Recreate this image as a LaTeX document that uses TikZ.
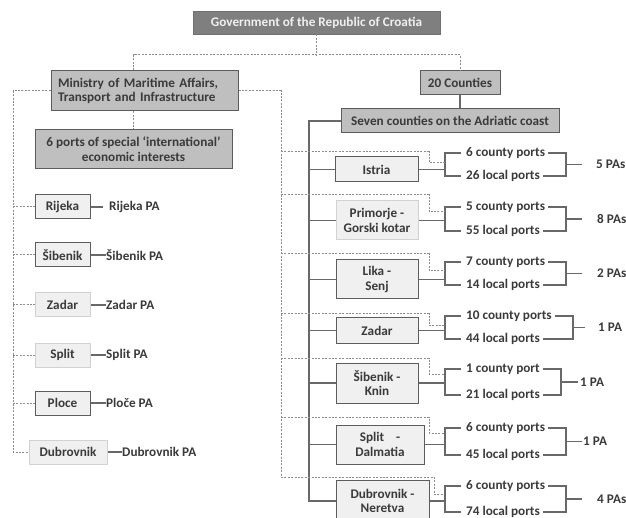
\documentclass[tikz,border=0pt]{standalone}
\usepackage{fontspec}
\setmainfont{Carlito}
\definecolor{govf}{HTML}{7F7F7F}
\definecolor{govb}{HTML}{707070}
\definecolor{midf}{HTML}{BFBFBF}
\definecolor{darkb}{HTML}{5C5C5C}
\definecolor{lightf}{HTML}{F0F0F0}
\definecolor{lightb}{HTML}{D2D2D2}
\definecolor{dashc}{HTML}{8C8C8C}
\definecolor{solc}{HTML}{686868}
\definecolor{txtc}{HTML}{3A3A3A}
\begin{document}
\begin{tikzpicture}[x=1pt,y=-1pt,
  every node/.style={font=\fontsize{13.2}{14.8}\selectfont\bfseries, text=txtc, inner sep=0pt},
  gbox/.style={draw=govb, fill=govf, text=white!94!black, line width=0.8pt},
  mbox/.style={draw=darkb, fill=midf, line width=1pt, align=center},
  dbox/.style={draw=darkb, fill=lightf, line width=1pt, align=center},
  lbox/.style={draw=lightb, fill=lightf, line width=1pt, align=center},
  dsh/.style={draw=dashc, line width=1pt, dash pattern=on 2pt off 1.4pt},
  sol/.style={draw=solc, line width=1.1pt},
  lbl/.style={anchor=west},
]
\useasboundingbox (0,0) rectangle (626,518);

% top level
\node[gbox, minimum width=247pt, minimum height=23pt] (gov) at (316.5,22.5) {Government of the Republic of Croatia};
\node[mbox, text width=173pt, inner xsep=7pt, align=left, minimum height=40pt] (min) at (144.5,91) {Ministry of Maritime Affairs,\\Transport and Infrastructure};
\node[mbox, minimum width=197pt, minimum height=39pt] (six) at (133.5,149.5) {6 ports of special ‘international’\\economic interests};
\node[mbox, minimum width=80pt, minimum height=24pt] (cty) at (460,83) {20 Counties};
\node[mbox, minimum width=218pt, minimum height=24pt] (sev) at (450,121) {Seven counties on the Adriatic coast};

\coordinate (hj) at (0,55);
\draw[dsh] (gov.south) -- (gov.south |- hj);
\draw[dsh] (six.north |- min.north) |- (hj -| cty.north) -- (cty.north);
\draw[dsh] (min.south -| six.north) -- (six.north);
\draw[sol] (cty.south) -- (cty.south |- sev.north);

% left column
\node[dbox, minimum width=55pt, minimum height=24pt] (rij) at (62.5,207) {Rijeka};
\node[dbox, minimum width=55pt, minimum height=24pt] (sib) at (62.5,255) {Šibenik};
\node[lbox, minimum width=55pt, minimum height=24pt] (zad) at (62.5,305) {Zadar};
\node[lbox, minimum width=55pt, minimum height=24pt] (spl) at (62.5,355) {Split};
\node[dbox, minimum width=55pt, minimum height=24pt] (plo) at (62.5,403) {Ploce};
\node[lbox, minimum width=78pt, minimum height=24pt] (dub) at (68,452) {Dubrovnik};

\node[lbl] (rijPA) at (109,207) {Rijeka PA};
\node[lbl] (sibPA) at (106,255) {Šibenik PA};
\node[lbl] (zadPA) at (106,305) {Zadar PA};
\node[lbl] (splPA) at (106,355) {Split PA};
\node[lbl] (ploPA) at (106,403) {Ploče PA};
\node[lbl] (dubPA) at (122,452) {Dubrovnik PA};

\draw[sol] (rij.east) -- ([xshift=-6pt]rijPA.west);
\draw[sol] (sib.east) -- (sibPA.west);
\draw[sol] (zad.east) -- (zadPA.west);
\draw[sol] (spl.east) -- (splPA.west);
\draw[sol] (plo.east) -- (ploPA.west);
\draw[sol] (dub.east) -- (dubPA.west);

\coordinate (lv) at (13,0);
\draw[dsh] (min.west) -| (lv |- dub.west) -- (dub.west);
\foreach \n in {rij,sib,zad,spl,plo} \draw[dsh] (lv |- \n.west) -- (\n.west);

% counties
\node[dbox, minimum width=83pt, minimum height=25pt] (is) at (376.5,169.5) {Istria};
\node[lbox, minimum width=82pt, minimum height=39pt] (pg) at (377,220.5) {Primorje -\\Gorski kotar};
\node[dbox, minimum width=82pt, minimum height=39pt] (ls) at (377,279.5) {Lika -\\Senj};
\node[dbox, minimum width=82pt, minimum height=25pt] (zd) at (377,330.5) {Zadar};
\node[dbox, minimum width=82pt, minimum height=40pt] (sk) at (377,383) {Šibenik -\\Knin};
\node[dbox, minimum width=88pt, minimum height=39pt] (sd) at (380,444.5) {Split \ \ \ -\\Dalmatia};
\node[dbox, minimum width=93pt, minimum height=42pt] (dn) at (382.5,501) {Dubrovnik -\\Neretva};

\coordinate (cv) at (309,0);
\draw[sol] (sev.west) -| (cv |- dn.west) -- (dn.west);
\foreach \n in {is,pg,ls,zd,sk,sd} \draw[sol] (cv |- \n.west) -- (\n.west);

\coordinate (rv) at (281,0);
\draw[dsh] (min.east) -| (rv |- 0,477) -- (434,477) -- (434,494) -- (445,494);

% port groups: name, yt, yb, xr, xp, PA x, texts, yh, yd
\foreach \n/\yt/\yb/\xr/\xp/\xa/\cp/\lp/\pa/\yh/\yd in {
  is/153/176/566/582/596/6 county ports/26 local ports/5 PAs/152/163,
  pg/207/231/566/582/597/5 county ports/55 local ports/8 PAs/195/212,
  ls/262/285/566/582/597/7 county ports/14 local ports/2 PAs/254/271,
  zd/316/339/573/585/598/10 county ports/44 local ports/1 PA/314/326,
  sk/369/395/561/578/580/1 county port/21 local ports/1 PA/358/374,
  sd/428/455/566/582/583/6 county ports/45 local ports/1 PA/417/433,
  dn/486/512/566/582/597/6 county ports/74 local ports/4 PAs/0/0}{
  \node[lbl] (\n cp) at (466,\yt) {\cp};
  \node[lbl] (\n lp) at (466,\yb) {\lp};
  \coordinate (\n b) at (445,0);
  \coordinate (\n r) at (\xr,{(\yt+\yb)/2});
  \draw[sol] (\n.east) -- (\n b |- \n.east);
  \draw[sol] ([xshift=-5pt]\n cp.west) -| (\n b |- \n.east) |- ([xshift=-5pt]\n lp.west);
  \draw[sol] ([xshift=3pt]\n cp.east) -| (\n r) |- ([xshift=3pt]\n lp.east);
  \node[lbl] (\n pa) at (\xa,{(\yt+\yb)/2}) {\pa};
  \draw[sol] (\n r) -- (\xp,{(\yt+\yb)/2});
  \ifnum\yh>0
    \draw[dsh] (rv |- 0,\yh) -- (429,\yh) -- (429,\yd) -- (\n b |- 0,\yd);
  \fi
}
\end{tikzpicture}
\end{document}
